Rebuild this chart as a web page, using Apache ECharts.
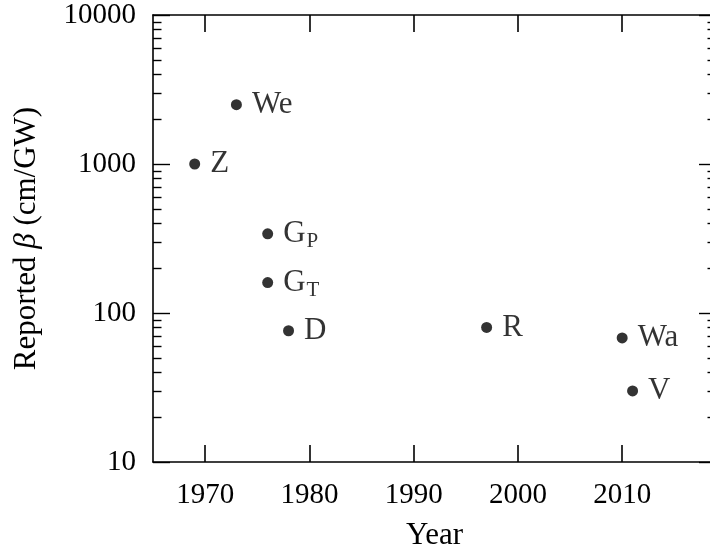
<!DOCTYPE html>
<html>
<head>
<meta charset="utf-8">
<script src="https://cdn.jsdelivr.net/npm/echarts@6/dist/echarts.min.js"></script>
<style>
  html, body { margin: 0; padding: 0; background: #fff; }
  #chart { width: 710px; height: 550px; }
</style>
</head>
<body>
<div id="chart"></div>
<script>
// Reported beta per experiment, by year
const years = [1969, 1973, 1976, 1976, 1978, 1997, 2010, 2011];
const betas = [1000, 2500, 340, 160, 76, 80, 68, 30];
const refs  = ['Z', 'We', 'G_P', 'G_T', 'D', 'R', 'Wa', 'V'];

// Axis ticks
const xTicks = [1970, 1980, 1990, 2000, 2010];
const yTicks = [10, 100, 1000, 10000];
const yMinorTicks = [];
[10, 100, 1000].forEach(d => { for (let k = 2; k <= 9; k++) yMinorTicks.push(d * k); });

const FONT = '"Liberation Serif", "DejaVu Serif", serif';
const INK = '#000';
const TEXT_SIZE = 31;
const TICK_SIZE = 29;

const points = years.map((y, i) => ({ value: [y, betas[i]], name: refs[i] }));

function refLabel(p) {
  const parts = p.name.split('_');
  return parts.length > 1 ? '{m|' + parts[0] + '}{s|' + parts[1] + '}' : '{m|' + parts[0] + '}';
}

function xAxisDef(pos, labels) {
  return {
    type: 'value', position: pos, min: 1965, max: 2019,
    axisLine: { show: true, lineStyle: { color: INK, width: 1.6 } },
    axisTick: { show: true, inside: true, length: 17, customValues: xTicks, lineStyle: { color: INK, width: 1.6 } },
    axisLabel: labels ? { show: true, customValues: xTicks, margin: 19, color: INK, fontFamily: FONT, fontSize: TICK_SIZE, formatter: v => String(v) } : { show: false },
    splitLine: { show: false },
    name: labels ? 'Year' : '', nameLocation: 'middle', nameGap: 58,
    nameTextStyle: { color: INK, fontFamily: FONT, fontSize: TEXT_SIZE }
  };
}

function yAxisDef(pos, major, labels) {
  return {
    type: 'log', logBase: 10, position: pos, min: 10, max: 10000,
    axisLine: { show: major, lineStyle: { color: INK, width: 1.6 } },
    axisTick: { show: true, inside: true, length: major ? 17 : 8.5, customValues: major ? yTicks : yMinorTicks, lineStyle: { color: INK, width: 1.4 } },
    axisLabel: labels ? { show: true, customValues: yTicks, margin: 17, color: INK, fontFamily: FONT, fontSize: TICK_SIZE, formatter: v => String(v) } : { show: false },
    splitLine: { show: false },
    name: labels ? 'Reported {b|β} (cm/GW)' : '', nameLocation: 'middle', nameGap: 111, nameRotate: 90,
    nameTextStyle: { color: INK, fontFamily: FONT, fontSize: TEXT_SIZE, rich: { b: { fontFamily: FONT, fontSize: TEXT_SIZE, fontStyle: 'italic', color: INK } } }
  };
}

const chart = echarts.init(document.getElementById('chart'), null, { renderer: 'canvas' });
chart.setOption({
  animation: false,
  backgroundColor: '#fff',
  grid: { left: 153, right: -6, top: 15, bottom: 88, containLabel: false, outerBoundsMode: 'none' },
  xAxis: [xAxisDef('bottom', true), xAxisDef('top', false)],
  yAxis: [yAxisDef('left', true, true), yAxisDef('left', false, false), yAxisDef('right', true, false), yAxisDef('right', false, false)],
  series: [{
    type: 'scatter', xAxisIndex: 0, yAxisIndex: 0,
    symbol: 'circle', symbolSize: 11,
    itemStyle: { color: INK },
    data: points,
    label: {
      show: true, position: 'right', distance: 10,
      formatter: refLabel,
      rich: {
        m: { fontFamily: FONT, fontSize: TEXT_SIZE, color: INK, lineHeight: 36 },
        s: { fontFamily: FONT, fontSize: 21, color: INK, lineHeight: 21, verticalAlign: 'bottom', padding: [15, 0, 0, 1] }
      }
    }
  }]
});
</script>
</body>
</html>
